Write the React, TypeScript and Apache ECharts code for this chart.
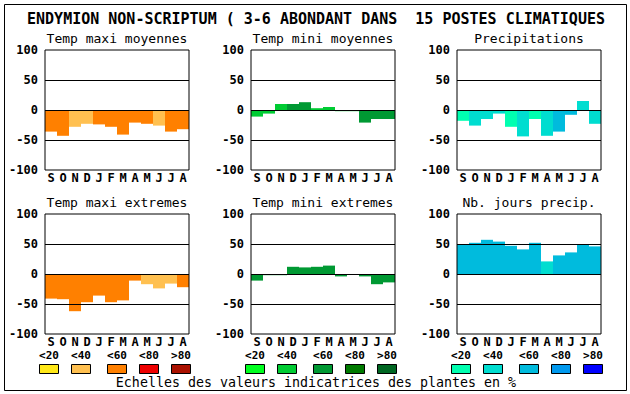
import React, { useEffect, useRef } from "react";
import * as echarts from "echarts";

// ---------- data ----------
const months = ["S", "O", "N", "D", "J", "F", "M", "A", "M", "J", "J", "A"];

const mainTitle = "ENDYMION NON-SCRIPTUM ( 3-6 ABONDANT DANS  15 POSTES CLIMATIQUES";
const panelTitles = [
  "Temp maxi moyennes",
  "Temp mini moyennes",
  "Precipitations",
  "Temp maxi extremes",
  "Temp mini extremes",
  "Nb. jours precip.",
];

const tmaxMoy = [-36, -43, -28, -23, -24, -28, -41, -21, -23, -26, -36, -32];
const tmaxMoyCls = [2, 2, 1, 1, 2, 2, 2, 2, 2, 1, 2, 2];

const tminMoy = [-11, -6, 10, 10, 13, 3, 5, -2, -2, -21, -15, -15];
const tminMoyCls = [1, 1, 1, 2, 2, 1, 1, 1, 1, 2, 2, 2];

const precip = [-18, -26, -15, -6, -28, -44, -15, -43, -36, -8, 15, -23];
const precipCls = [0, 1, 1, 1, 0, 1, 0, 1, 2, 2, 1, 1];

const tmaxExt = [-41, -42, -62, -47, -36, -47, -44, -11, -17, -24, -16, -22];
const tmaxExtCls = [2, 2, 2, 2, 2, 2, 2, 2, 1, 1, 1, 2];

const tminExt = [-11, -2, -2, 12, 11, 12, 14, -4, 0, -4, -17, -14];
const tminExtCls = [2, 2, 2, 2, 2, 2, 2, 2, 2, 2, 2, 2];

const joursPrecip = [50, 52, 57, 54, 47, 41, 52, 21, 31, 36, 49, 46];
const joursPrecipCls = [2, 2, 2, 2, 2, 2, 2, 1, 2, 2, 2, 2];

const yTicks = [-100, -50, 0, 50, 100];
const refLines = [-50, 0, 50];
const legendLabels = ["<20", "<40", "<60", "<80", ">80"];
const scaleCaption = "Echelles des valeurs indicatrices des plantes en %";

// ---------- styles ----------
const warm = ["#FFE818", "#FFC050", "#FF8000", "#EE0000", "#AA1100"];
const green = ["#00FF20", "#00CC33", "#009933", "#007A00", "#006622"];
const blue = ["#00FFB0", "#00DDD0", "#00BBDD", "#0099EE", "#0000FF"];

const MONO = '"DejaVu Sans Mono", "Liberation Mono", monospace';

const panels = [
  { values: tmaxMoy, cls: tmaxMoyCls, pal: warm },
  { values: tminMoy, cls: tminMoyCls, pal: green },
  { values: precip, cls: precipCls, pal: blue },
  { values: tmaxExt, cls: tmaxExtCls, pal: warm },
  { values: tminExt, cls: tminExtCls, pal: green },
  { values: joursPrecip, cls: joursPrecipCls, pal: blue },
];

const colLeft = [45, 251, 457];
const rowTop = [50, 214];
const PW = 144;
const PH = 120;
const swatchOffsets = [0, 32, 68, 100, 132];
const palettes = [warm, green, blue];

export default function App() {
  const ref = useRef<HTMLDivElement>(null);

  useEffect(() => {
    if (!ref.current) return;
    const chart = echarts.init(ref.current, null, { renderer: "svg" });

    const grids: any[] = [];
    const xAxes: any[] = [];
    const yAxes: any[] = [];
    const series: any[] = [];
    const graphics: any[] = [];

    panels.forEach((p, i) => {
      const c = i % 3;
      const r = Math.floor(i / 3);
      grids.push({
        left: colLeft[c],
        top: rowTop[r],
        width: PW,
        height: PH,
        show: true,
        borderColor: "#000",
        borderWidth: 1,
        backgroundColor: "transparent",
        z: 10,
      });
      xAxes.push({
        type: "category",
        gridIndex: i,
        data: months,
        boundaryGap: true,
        axisLine: { show: false },
        axisTick: { show: false },
        axisLabel: {
          interval: 0,
          margin: 2,
          color: "#000",
          fontFamily: MONO,
          fontWeight: "bold",
          fontSize: 12,
          lineHeight: 12,
        },
        splitLine: { show: false },
      });
      yAxes.push({
        type: "value",
        gridIndex: i,
        min: yTicks[0],
        max: yTicks[yTicks.length - 1],
        interval: 50,
        axisLine: { show: false },
        axisTick: { show: false },
        splitLine: { show: false },
        axisLabel: {
          margin: 7,
          color: "#000",
          fontFamily: MONO,
          fontWeight: "bold",
          fontSize: 12,
        },
      });
      series.push({
        type: "bar",
        xAxisIndex: i,
        yAxisIndex: i,
        barCategoryGap: "0%",
        data: p.values.map((v, k) => ({
          value: v,
          itemStyle: { color: p.pal[p.cls[k]] },
        })),
        markLine: {
          silent: true,
          symbol: "none",
          label: { show: false },
          lineStyle: { color: "#000", width: 1, type: "solid" },
          data: refLines.map((y) => ({ yAxis: y })),
        },
      });
      graphics.push({
        type: "text",
        x: colLeft[c] + PW / 2,
        y: rowTop[r] - 12,
        style: {
          text: panelTitles[i],
          font: `13px ${MONO}`,
          fill: "#000",
          textAlign: "center",
          textVerticalAlign: "middle",
          verticalAlign: "middle",
        },
      });
    });

    // outer frame
    graphics.push({
      type: "rect",
      shape: { x: 4.5, y: 4.5, width: 622, height: 386 },
      style: { fill: "none", stroke: "#000", lineWidth: 1 },
      z: 20,
    });
    // main title
    graphics.push({
      type: "text",
      x: 316,
      y: 19,
      style: {
        text: mainTitle,
        font: `bold 15px ${MONO}`,
        fill: "#000",
        textAlign: "center",
        textVerticalAlign: "middle",
        verticalAlign: "middle",
      },
    });
    // legend scales
    palettes.forEach((pal, g) => {
      const gx = 39 + g * 206;
      pal.forEach((col, k) => {
        const sx = gx + swatchOffsets[k];
        graphics.push({
          type: "rect",
          shape: { x: sx + 0.5, y: 364.5, width: 19, height: 9 },
          style: { fill: col, stroke: "#000", lineWidth: 1 },
        });
        graphics.push({
          type: "text",
          x: sx + 10,
          y: 355,
          style: {
            text: legendLabels[k],
            font: `bold 11px ${MONO}`,
            fill: "#000",
            textAlign: "center",
            textVerticalAlign: "middle",
            verticalAlign: "middle",
          },
        });
      });
    });
    graphics.push({
      type: "text",
      x: 316,
      y: 382,
      style: {
        text: scaleCaption,
        font: `13.3px ${MONO}`,
        fill: "#000",
        textAlign: "center",
        textVerticalAlign: "middle",
        verticalAlign: "middle",
      },
    });

    chart.setOption({
      animation: false,
      backgroundColor: "#fff",
      grid: grids,
      xAxis: xAxes,
      yAxis: yAxes,
      series,
      graphic: graphics,
    });

    return () => chart.dispose();
  }, []);

  return (
    <div
      ref={ref}
      style={{ position: "fixed", left: 0, top: 0, width: 630, height: 394, background: "#fff" }}
    />
  );
}
